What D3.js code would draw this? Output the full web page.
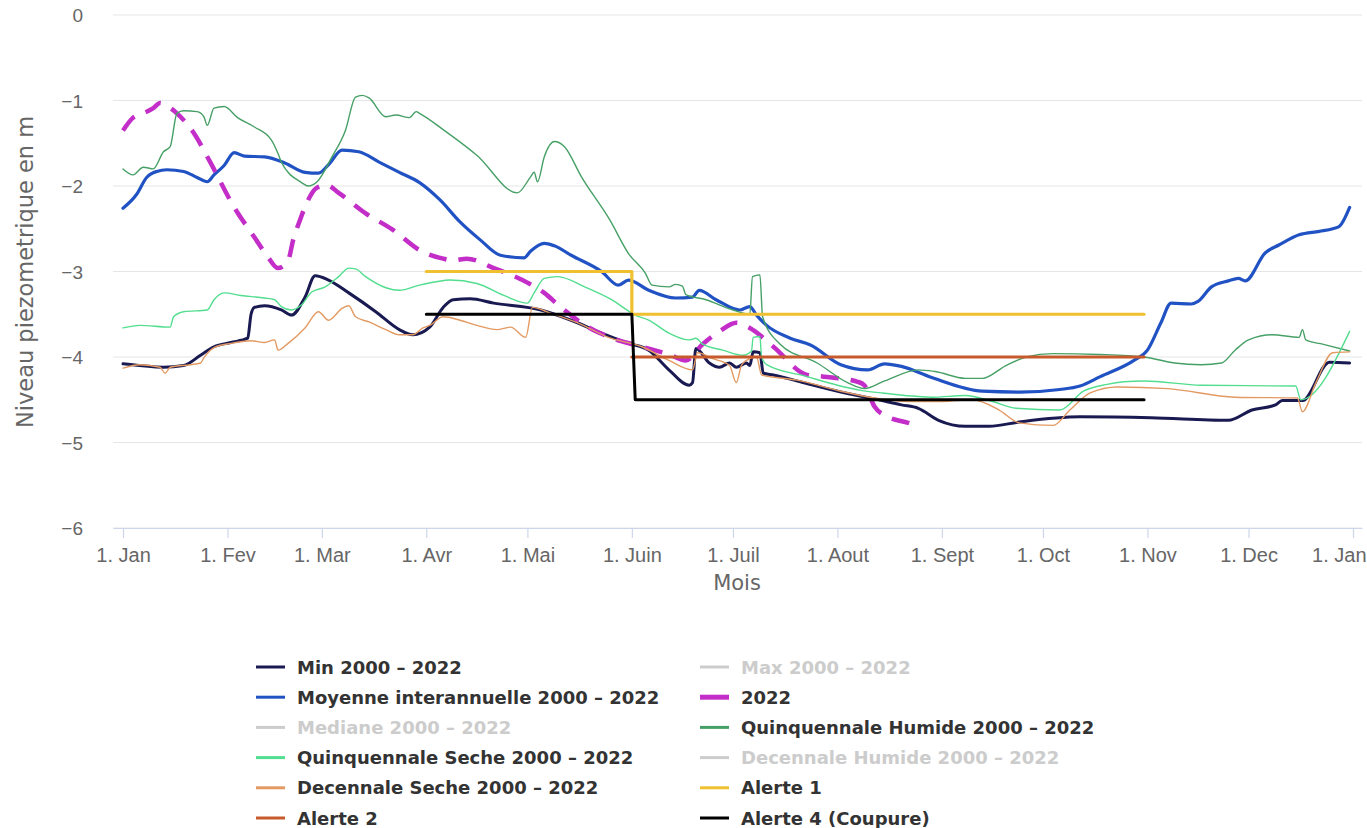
<!DOCTYPE html>
<html><head><meta charset="utf-8">
<script src="https://cdn.jsdelivr.net/npm/d3@7"></script>
<style>
body{margin:0;background:#fff;}
svg{display:block;font-family:"DejaVu Sans",Verdana,sans-serif;}
</style>
</head><body>
<svg id="c" width="1367" height="828"></svg>
<script>
// ---- categories / ticks ----
const monthStarts = [0,31,59,90,120,151,181,212,243,273,304,334,365];
const monthLabels = ["1. Jan","1. Fev","1. Mar","1. Avr","1. Mai","1. Juin","1. Juil","1. Aout","1. Sept","1. Oct","1. Nov","1. Dec","1. Jan"];
const yTicks = [0,-1,-2,-3,-4,-5,-6];

// ---- series values: [day of year, level in m] ----
const minData = [[0,-4.08],[5,-4.1],[12,-4.12],[18,-4.1],[23,-3.98],[27,-3.88],[32,-3.83],[37,-3.78],[38,-3.5],[39,-3.42],[42,-3.4],[47,-3.45],[50,-3.51],[54,-3.3],[57,-3.05],[61,-3.1],[67,-3.25],[75,-3.47],[82,-3.68],[86,-3.74],[91,-3.65],[95,-3.42],[98,-3.33],[103,-3.32],[110,-3.37],[124,-3.45],[133,-3.57],[142,-3.72],[150,-3.84],[156,-3.92],[162,-4.15],[168,-4.33],[169,-4.3],[170,-3.9],[174,-4.07],[177,-4.12],[180,-4.07],[182,-4.12],[185,-4.07],[186,-4.1],[187,-3.94],[189,-3.95],[190,-4.19],[193,-4.21],[201,-4.29],[213,-4.41],[223,-4.49],[231,-4.56],[236,-4.6],[242,-4.74],[250,-4.81],[257,-4.81],[266,-4.76],[284,-4.7],[305,-4.71],[328,-4.74],[335,-4.62],[342,-4.56],[344,-4.51],[350,-4.51],[358,-4.06],[364,-4.07]];

const moyenneData = [[0,-2.26],[4,-2.1],[7,-1.9],[10,-1.83],[13,-1.81],[18,-1.83],[22,-1.9],[25,-1.95],[27,-1.87],[30,-1.76],[33,-1.61],[36,-1.65],[42,-1.66],[48,-1.73],[54,-1.84],[58,-1.85],[61,-1.75],[65,-1.58],[70,-1.6],[76,-1.72],[82,-1.84],[88,-1.96],[94,-2.16],[100,-2.42],[106,-2.63],[112,-2.81],[119,-2.84],[121,-2.76],[125,-2.67],[128,-2.7],[133,-2.81],[142,-3.0],[147,-3.16],[150,-3.1],[156,-3.22],[164,-3.31],[169,-3.3],[171,-3.22],[176,-3.33],[183,-3.45],[186,-3.41],[188,-3.51],[191,-3.63],[198,-3.78],[204,-3.86],[213,-4.09],[221,-4.15],[226,-4.08],[231,-4.11],[240,-4.24],[255,-4.4],[266,-4.41],[278,-4.38],[284,-4.34],[290,-4.23],[300,-4.04],[304,-3.92],[308,-3.6],[311,-3.37],[317,-3.38],[319,-3.35],[323,-3.18],[328,-3.11],[331,-3.08],[333,-3.11],[339,-2.78],[343,-2.69],[349,-2.57],[355,-2.53],[359,-2.5],[361,-2.47],[364,-2.25]];

const data2022 = [[0,-1.35],[3,-1.2],[6,-1.15],[9,-1.09],[11,-1.03],[12.5,-1.05],[16,-1.15],[21,-1.38],[26,-1.73],[33,-2.25],[39,-2.6],[43,-2.83],[46,-2.96],[49,-2.87],[50.5,-2.63],[52.5,-2.4],[54.5,-2.2],[57.5,-2.02],[60.5,-1.99],[64,-2.08],[72,-2.32],[80,-2.51],[88,-2.75],[95,-2.85],[98,-2.87],[102,-2.85],[110,-2.96],[120,-3.13],[125,-3.25],[130,-3.42],[138,-3.65],[144.5,-3.77],[154,-3.88],[162,-3.97],[167,-4.04],[172,-3.85],[177,-3.7],[182,-3.6],[186,-3.66],[193,-3.88],[203,-4.21],[208,-4.23],[218,-4.29],[220,-4.33],[223,-4.58],[227,-4.7],[233,-4.77],[236.5,-4.82]];

const quinqHumideData = [[0,-1.8],[3,-1.87],[6,-1.78],[9,-1.8],[12,-1.6],[14,-1.54],[16,-1.15],[18,-1.12],[22,-1.13],[24,-1.19],[25,-1.29],[27,-1.09],[30,-1.07],[34,-1.2],[39,-1.31],[44,-1.46],[46,-1.62],[47,-1.72],[53,-1.96],[55,-2.0],[57.6,-1.95],[62,-1.66],[66,-1.35],[69,-0.96],[71,-0.94],[73,-0.97],[78,-1.19],[81,-1.17],[85,-1.2],[87,-1.13],[88,-1.15],[95,-1.34],[105,-1.64],[117,-2.08],[121,-1.89],[122,-1.84],[123,-1.95],[125,-1.66],[128,-1.48],[131,-1.54],[136,-1.89],[144.5,-2.4],[150,-2.79],[155,-3.02],[157,-3.16],[162,-3.18],[164,-3.15],[166,-3.17],[167,-3.27],[173,-3.33],[181,-3.45],[186,-3.5],[186.8,-3.06],[189,-3.04],[189.8,-3.53],[195,-3.85],[206,-4.07],[215,-4.3],[220,-4.37],[226,-4.28],[236,-4.15],[241,-4.17],[250,-4.25],[255,-4.25],[262,-4.1],[268,-4.0],[276,-3.96],[290,-3.97],[303,-4.0],[312,-4.07],[320,-4.09],[326,-4.07],[330,-3.92],[334,-3.8],[341,-3.74],[349,-3.77],[350,-3.68],[351,-3.8],[356,-3.85],[364,-3.93]];

const quinqSecheData = [[0,-3.66],[5,-3.63],[14,-3.65],[15,-3.53],[18,-3.47],[25,-3.45],[27,-3.33],[30,-3.25],[35,-3.28],[42,-3.31],[45,-3.33],[47,-3.41],[50,-3.45],[53,-3.39],[56,-3.24],[60,-3.18],[64,-3.06],[67,-2.96],[69,-2.97],[72,-3.06],[78,-3.19],[82,-3.22],[88,-3.16],[93,-3.12],[97,-3.1],[105,-3.14],[113,-3.28],[120,-3.37],[122,-3.25],[125,-3.08],[129,-3.06],[137,-3.18],[145,-3.33],[152,-3.51],[156,-3.57],[162,-3.72],[168,-3.8],[170,-3.78],[172,-3.85],[178,-3.92],[184,-3.98],[186.5,-3.93],[187,-3.77],[189,-3.76],[189.5,-4.0],[191,-4.09],[203,-4.23],[212,-4.33],[219,-4.39],[225,-4.42],[232,-4.45],[240,-4.47],[250,-4.45],[258,-4.52],[265,-4.6],[278,-4.62],[285,-4.4],[292,-4.32],[297,-4.29],[303,-4.28],[320,-4.33],[348,-4.34],[349.5,-4.5],[364,-3.7]];

const decSecheData = [[0,-4.13],[5,-4.09],[11,-4.12],[12.5,-4.19],[14,-4.12],[20,-4.09],[23,-4.07],[24,-4.01],[27,-3.89],[32,-3.84],[38,-3.81],[42,-3.83],[45,-3.8],[46,-3.92],[49,-3.84],[54,-3.66],[58,-3.47],[61,-3.57],[65,-3.43],[67,-3.4],[69,-3.53],[73,-3.59],[78,-3.68],[82,-3.74],[86,-3.74],[89,-3.66],[91,-3.63],[95,-3.53],[100,-3.57],[105,-3.63],[111,-3.68],[115,-3.65],[119.5,-3.77],[121.5,-3.42],[127,-3.49],[135,-3.6],[144,-3.77],[154,-3.88],[162,-4.04],[169,-4.15],[170.5,-3.95],[175,-4.02],[180,-4.1],[182,-4.3],[183.5,-4.1],[185,-4.04],[188,-4.0],[189.5,-4.21],[200,-4.27],[213,-4.4],[223,-4.48],[233,-4.52],[243,-4.52],[252,-4.5],[260,-4.62],[266,-4.77],[276,-4.8],[281,-4.62],[287,-4.42],[295,-4.35],[310,-4.37],[330,-4.47],[348.5,-4.48],[350,-4.64],[354,-4.3],[359,-3.95],[364,-3.94]];

const alerte1Data = [[90,-3],[151,-3],[151,-3.5],[303,-3.5]];
const alerte2Data = [[151,-4],[303,-4]];
const alerte4Data = [[90,-3.5],[151,-3.5],[152,-4.5],[303,-4.5]];

const seriesNames = ["Min 2000 – 2022","Max 2000 – 2022","Moyenne interannuelle 2000 – 2022","2022","Mediane 2000 – 2022","Quinquennale Humide 2000 – 2022","Quinquennale Seche 2000 – 2022","Decennale Humide 2000 – 2022","Decennale Seche 2000 – 2022","Alerte 1","Alerte 2","Alerte 4 (Coupure)"];

const series = [
  {name:seriesNames[0], data:minData, color:"#1a1a52", width:3, visible:true, smooth:true},
  {name:seriesNames[1], data:[], color:"#ccc", width:3, visible:false},
  {name:seriesNames[2], data:moyenneData, color:"#2152c4", width:3.2, visible:true, smooth:true},
  {name:seriesNames[3], data:data2022, color:"#c42ec8", width:4.5, dash:"18,12", visible:true, smooth:true},
  {name:seriesNames[4], data:[], color:"#ccc", width:3, visible:false},
  {name:seriesNames[5], data:quinqHumideData, color:"#46a066", width:1.4, visible:true, smooth:true},
  {name:seriesNames[6], data:quinqSecheData, color:"#52de8e", width:1.4, visible:true, smooth:true},
  {name:seriesNames[7], data:[], color:"#ccc", width:3, visible:false},
  {name:seriesNames[8], data:decSecheData, color:"#e39a62", width:1.4, visible:true, smooth:true},
  {name:seriesNames[9], data:alerte1Data, color:"#f0c030", width:3.2, visible:true},
  {name:seriesNames[10], data:alerte2Data, color:"#c65a2c", width:3.2, visible:true},
  {name:seriesNames[11], data:alerte4Data, color:"#000000", width:3, visible:true}
];

// ---- scales ----
const day0 = Date.UTC(2022,0,1);
const toDate = d => new Date(day0 + d*864e5);
const L = 113, R = 1362, T = 15, B = 528;
const x = d3.scaleUtc().domain([toDate(-2.97), toDate(367.67)]).range([L, R]);
const y = d3.scaleLinear().domain([-6, 0]).range([B, T]);

const svg = d3.select("#c");

// grid lines
svg.append("g").selectAll("line").data(yTicks).join("line")
  .attr("x1", L).attr("x2", R)
  .attr("y1", d => y(d)).attr("y2", d => y(d))
  .attr("stroke", "#e6e6e6").attr("stroke-width", 1.2);

// y axis labels
const yAxis = d3.axisLeft(y).tickValues(yTicks).tickFormat(d3.format("d")).tickSize(0).tickPadding(0);
const gy = svg.append("g").attr("transform", `translate(${83},0)`).call(yAxis);
gy.select(".domain").remove();
gy.selectAll("text").attr("fill", "#666").style("font-size", "19px").attr("dy", "0.35em");

// x axis
const xAxis = d3.axisBottom(x).tickValues(monthStarts.map(toDate))
  .tickFormat((d, i) => monthLabels[i]).tickSize(10).tickPadding(10).tickSizeOuter(0);
const gx = svg.append("g").attr("transform", `translate(0,${B})`).call(xAxis);
gx.select(".domain").attr("stroke", "#ccd6eb").attr("stroke-width", 1.2);
gx.selectAll(".tick line").attr("stroke", "#ccd6eb").attr("stroke-width", 1.2);
gx.selectAll("text").attr("fill", "#666").style("font-size", "20px");
// keep the last label inside the chart, as the original does
gx.selectAll(".tick").filter((d, i) => i === monthStarts.length - 1)
  .select("text").attr("text-anchor", "end").attr("dx", "13");

// axis titles
svg.append("text").attr("x", 737).attr("y", 590).attr("text-anchor", "middle")
  .attr("fill", "#666").style("font-size", "21px").text("Mois");
svg.append("text").attr("transform", "translate(33,272) rotate(-90)").attr("text-anchor", "middle")
  .attr("fill", "#666").style("font-size", "22.5px").text("Niveau piezometrique en m");

// lines
const lineSmooth = d3.line().x(d => x(toDate(d[0]))).y(d => y(d[1])).curve(d3.curveMonotoneX);
const lineStraight = d3.line().x(d => x(toDate(d[0]))).y(d => y(d[1])).curve(d3.curveLinear);

const plot = svg.append("g");
series.filter(s => s.visible).forEach(s => {
  plot.append("path").datum(s.data)
    .attr("d", s.smooth ? lineSmooth : lineStraight)
    .attr("fill", "none").attr("stroke", s.color).attr("stroke-width", s.width)
    .attr("stroke-linejoin", "round").attr("stroke-linecap", s.dash ? "butt" : "round")
    .attr("stroke-dasharray", s.dash || null);
});

// legend
const legend = svg.append("g");
series.forEach((s, i) => {
  const col = i % 2, row = Math.floor(i / 2);
  const sx = col === 0 ? 256 : 700;
  const cy = 667 + row * 30.2;
  const g = legend.append("g");
  g.append("line").attr("x1", sx).attr("x2", sx + 29).attr("y1", cy).attr("y2", cy)
    .attr("stroke", s.visible ? s.color : "#cccccc")
    .attr("stroke-width", s.name === "2022" ? 5 : 3);
  g.append("text").attr("x", sx + 41).attr("y", cy + 6.5)
    .attr("fill", s.visible ? "#333333" : "#cccccc")
    .style("font-size", "18px").style("font-weight", "bold").text(s.name);
});
</script>
</body></html>
